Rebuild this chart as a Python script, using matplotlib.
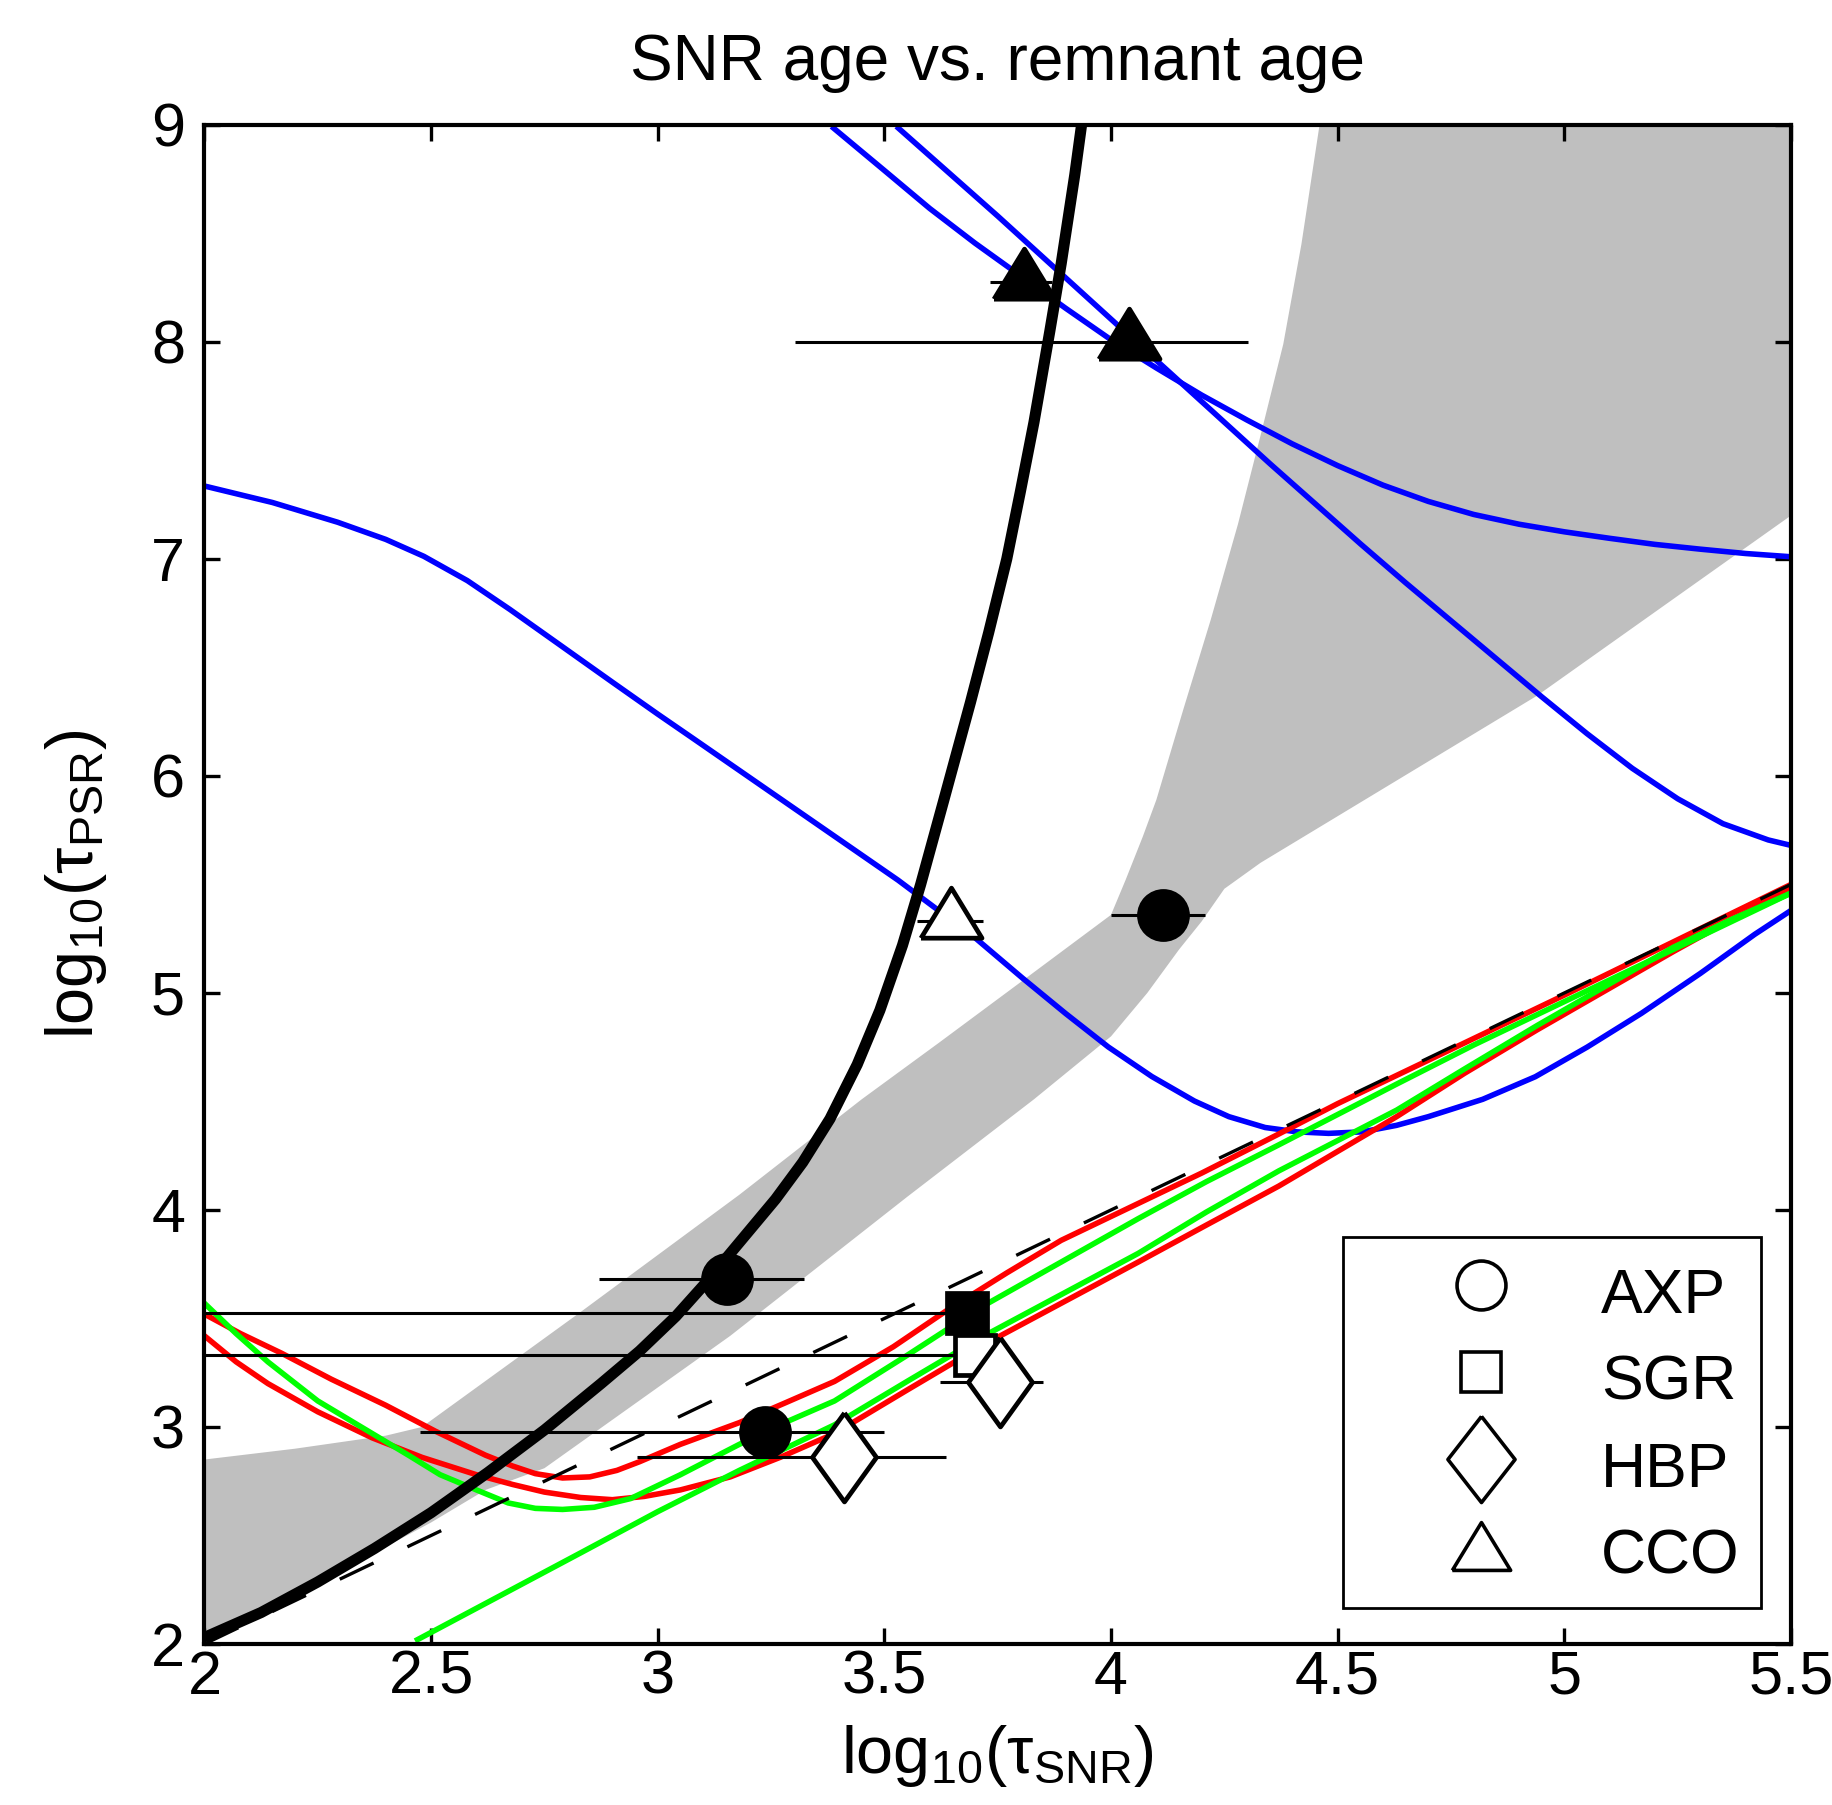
import numpy as np
import matplotlib
matplotlib.use('Agg')
import matplotlib.pyplot as plt
from matplotlib.lines import Line2D

plt.rcParams['font.family'] = ['Liberation Sans', 'DejaVu Sans']
plt.rcParams['mathtext.fontset'] = 'custom'
plt.rcParams['mathtext.rm'] = 'Liberation Sans'
plt.rcParams['mathtext.it'] = 'Liberation Sans:italic'
plt.rcParams['mathtext.bf'] = 'Liberation Sans:bold'
plt.rcParams['lines.scale_dashes'] = False

# ---------------- data ----------------
# gray allowed region (upper/left boundary, then lower/right boundary)
gray_upper_x = [2.0, 2.2, 2.4, 2.48, 2.83, 3.18, 3.45, 3.62, 3.82, 4.0, 4.032, 4.07, 4.10, 4.16, 4.22, 4.28, 4.33, 4.38, 4.42, 4.46, 5.5]
gray_upper_y = [2.85, 2.90, 2.96, 3.0, 3.53, 4.07, 4.51, 4.77, 5.08, 5.36, 5.52, 5.72, 5.89, 6.31, 6.72, 7.16, 7.57, 7.99, 8.45, 9.0, 9.0]
gray_lower_x = [5.5, 4.94, 4.33, 4.25, 4.20, 4.15, 4.08, 4.0, 3.83, 3.55, 3.16, 2.75, 2.62, 2.5, 2.25, 2.0]
gray_lower_y = [7.20, 6.37, 5.60, 5.48, 5.33, 5.20, 5.00, 4.80, 4.51, 4.06, 3.42, 2.81, 2.71, 2.56, 2.28, 2.01]

# thick black curve
black_x = [2.0, 2.125, 2.25, 2.375, 2.5, 2.625, 2.75, 2.875, 2.96, 3.04, 3.10, 3.18, 3.26, 3.32, 3.38, 3.44, 3.49, 3.54, 3.58, 3.63, 3.69, 3.73, 3.77, 3.80, 3.83, 3.865, 3.89, 3.92, 3.935]
black_y = [2.03, 2.145, 2.286, 2.44, 2.605, 2.79, 2.986, 3.20, 3.35, 3.51, 3.65, 3.85, 4.05, 4.22, 4.42, 4.67, 4.92, 5.22, 5.50, 5.88, 6.34, 6.66, 7.00, 7.31, 7.63, 8.05, 8.36, 8.77, 9.0]

# dashed identity line
dash_x = [2.0, 5.5]
dash_y = [2.0, 5.5]

# blue curves
blueA_x = [2.0, 2.15, 2.294, 2.40, 2.484, 2.58, 2.674, 2.78, 2.90, 3.0, 3.08, 3.17, 3.26, 3.35, 3.44, 3.53, 3.61, 3.69, 3.805, 3.90, 3.994, 4.09, 4.184, 4.26, 4.34, 4.41, 4.48, 4.555, 4.63, 4.70, 4.82, 4.936, 5.05, 5.17, 5.30, 5.42, 5.5]
blueA_y = [7.336, 7.26, 7.169, 7.09, 7.012, 6.90, 6.767, 6.61, 6.432, 6.285, 6.17, 6.04, 5.91, 5.78, 5.65, 5.52, 5.395, 5.272, 5.068, 4.905, 4.751, 4.615, 4.502, 4.43, 4.38, 4.36, 4.353, 4.36, 4.39, 4.43, 4.51, 4.614, 4.75, 4.906, 5.09, 5.27, 5.38]
blueB_x = [3.388, 3.5, 3.6, 3.7, 3.8, 3.9, 4.0, 4.1, 4.2, 4.3, 4.4, 4.5, 4.6, 4.7, 4.8, 4.9, 5.0, 5.1, 5.2, 5.3, 5.4, 5.5]
blueB_y = [8.985, 8.79, 8.615, 8.455, 8.305, 8.155, 8.01, 7.88, 7.755, 7.64, 7.53, 7.43, 7.34, 7.265, 7.205, 7.16, 7.125, 7.095, 7.067, 7.045, 7.025, 7.01]
blueC_x = [3.531, 3.65, 3.75, 3.85, 3.95, 4.05, 4.15, 4.25, 4.35, 4.45, 4.55, 4.65, 4.75, 4.85, 4.95, 5.05, 5.15, 5.25, 5.35, 5.45, 5.5]
blueC_y = [8.985, 8.765, 8.58, 8.39, 8.20, 8.01, 7.82, 7.63, 7.44, 7.255, 7.07, 6.89, 6.715, 6.54, 6.365, 6.195, 6.035, 5.895, 5.78, 5.705, 5.68]

# red curves
red1_x = [2.0, 2.08, 2.17, 2.28, 2.40, 2.51, 2.62, 2.68, 2.73, 2.79, 2.85, 2.91, 2.96, 3.05, 3.18, 3.28, 3.39, 3.52, 3.64, 3.77, 3.89, 4.06, 4.20, 4.37, 4.50, 4.63, 4.80, 5.0, 5.25, 5.5]
red1_y = [3.52, 3.43, 3.34, 3.22, 3.10, 2.98, 2.87, 2.82, 2.785, 2.765, 2.77, 2.80, 2.84, 2.92, 3.02, 3.11, 3.21, 3.37, 3.54, 3.71, 3.86, 4.03, 4.17, 4.35, 4.49, 4.62, 4.79, 4.99, 5.245, 5.50]
red2_x = [2.0, 2.07, 2.14, 2.25, 2.37, 2.48, 2.60, 2.68, 2.75, 2.83, 2.90, 2.97, 3.05, 3.16, 3.27, 3.39, 3.55, 3.72, 3.89, 4.06, 4.21, 4.37, 4.50, 4.63, 4.78, 4.94, 5.09, 5.24, 5.37, 5.5]
red2_y = [3.42, 3.30, 3.20, 3.07, 2.95, 2.86, 2.78, 2.735, 2.70, 2.675, 2.665, 2.68, 2.71, 2.77, 2.86, 2.97, 3.17, 3.38, 3.57, 3.76, 3.93, 4.11, 4.27, 4.43, 4.63, 4.83, 5.01, 5.19, 5.34, 5.48]

# green curves
green1_x = [2.0, 2.07, 2.14, 2.25, 2.37, 2.45, 2.52, 2.60, 2.67, 2.73, 2.79, 2.86, 2.94, 3.05, 3.18, 3.28, 3.39, 3.55, 3.72, 3.89, 4.06, 4.21, 4.37, 4.50, 4.63, 4.80, 5.0, 5.25, 5.5]
green1_y = [3.57, 3.43, 3.30, 3.12, 2.97, 2.87, 2.78, 2.71, 2.65, 2.625, 2.62, 2.63, 2.67, 2.78, 2.92, 3.02, 3.12, 3.33, 3.56, 3.76, 3.96, 4.13, 4.30, 4.44, 4.58, 4.76, 4.96, 5.21, 5.46]
green2_x = [2.47, 2.65, 2.83, 3.0, 3.18, 3.39, 3.55, 3.72, 3.89, 4.06, 4.21, 4.37, 4.50, 4.63, 4.78, 4.94, 5.09, 5.24, 5.37, 5.5]
green2_y = [2.02, 2.22, 2.42, 2.61, 2.80, 3.01, 3.21, 3.42, 3.61, 3.80, 3.99, 4.18, 4.32, 4.46, 4.65, 4.85, 5.03, 5.21, 5.34, 5.46]

# sources: value, lower and upper end of the horizontal error bar
axp_x = [3.152, 3.237, 4.115]
axp_y = [3.68, 2.975, 5.36]
axp_lo = [2.871, 2.476, 4.001]
axp_hi = [3.322, 3.50, 4.207]

sgr_x = [3.682, 3.699]
sgr_y = [3.523, 3.331]
sgr_lo = [2.0, 2.0]
sgr_hi = [3.682, 3.699]
sgr_filled = [True, False]

hbp_x = [3.412, 3.754]
hbp_y = [2.863, 3.209]
hbp_lo = [2.955, 3.623]
hbp_hi = [3.635, 3.851]

cco_x = [3.648, 3.808, 4.04]
cco_y = [5.33, 8.275, 8.0]
cco_lo = [3.571, 3.733, 3.302]
cco_hi = [3.718, 3.87, 4.302]
cco_filled = [False, True, True]

legend_labels = ['AXP', 'SGR', 'HBP', 'CCO']
xticks = [2, 2.5, 3, 3.5, 4, 4.5, 5, 5.5]
xticklabels = ['2', '2.5', '3', '3.5', '4', '4.5', '5', '5.5']
yticks = [2, 3, 4, 5, 6, 7, 8, 9]

# ---------------- styles ----------------
diamond_marker = [(0, 1), (0.72, 0), (0, -1), (-0.72, 0), (0, 1)]
tri_marker = [(-1, -0.547), (1, -0.547), (0, 1.093), (-1, -0.547)]

fig = plt.figure(figsize=(9.16, 9.025), dpi=200)
ax = fig.add_axes([0.1116, 0.0892, 0.8660, 0.8416])

ax.fill(np.concatenate([gray_upper_x, gray_lower_x]),
        np.concatenate([gray_upper_y, gray_lower_y]),
        color='#bfbfbf', lw=0, zorder=0.5)

lw_c = 2.0
line_kw = dict(lw=lw_c, zorder=2, solid_joinstyle='round')
ax.plot(blueA_x, blueA_y, color='#0000ff', **line_kw)
ax.plot(blueB_x, blueB_y, color='#0000ff', **line_kw)
ax.plot(blueC_x, blueC_y, color='#0000ff', **line_kw)
ax.plot(red1_x, red1_y, color='#ff0000', **line_kw)
ax.plot(red2_x, red2_y, color='#ff0000', **line_kw)
ax.plot(green1_x, green1_y, color='#00ff00', **line_kw)
ax.plot(green2_x, green2_y, color='#00ff00', **line_kw)
ax.plot(dash_x, dash_y, color='k', lw=1.2, dashes=(13.5, 13.5), zorder=2.5)
ax.plot(black_x, black_y, color='k', lw=4.0, zorder=3, solid_capstyle='butt',
        solid_joinstyle='round')

def errbars(xs, ys, lo, hi):
    xs = np.asarray(xs); lo = np.asarray(lo); hi = np.asarray(hi)
    ax.errorbar(xs, ys, xerr=[xs - lo, hi - xs], fmt='none', ecolor='k',
                elinewidth=1.1, capsize=0, zorder=4)

errbars(axp_x, axp_y, axp_lo, axp_hi)
errbars(sgr_x, sgr_y, sgr_lo, sgr_hi)
errbars(hbp_x, hbp_y, hbp_lo, hbp_hi)
errbars(cco_x, cco_y, cco_lo, cco_hi)

mew = 1.7
ax.plot(axp_x, axp_y, ls='none', marker='o', ms=18, mfc='k', mec='k', zorder=5)
for x, y, f in zip(sgr_x, sgr_y, sgr_filled):
    ax.plot([x], [y], ls='none', marker='s', ms=14.4, mfc='k' if f else 'white',
            mec='k', mew=mew, zorder=5)
ax.plot(hbp_x, hbp_y, ls='none', marker=diamond_marker, ms=32, mfc='white',
        mec='k', mew=mew, zorder=5)
for x, y, f in zip(cco_x, cco_y, cco_filled):
    ax.plot([x], [y], ls='none', marker=tri_marker, ms=24, mfc='k' if f else 'white',
            mec='k', mew=mew, zorder=5)

ax.set_xlim(2, 5.5)
ax.set_ylim(2, 9)
ax.set_xticks(xticks)
ax.set_xticklabels(xticklabels)
ax.set_yticks(yticks)
ax.tick_params(direction='in', length=5.8, width=1.2, top=True, right=True,
               labelsize=22)
ax.tick_params(axis='x', pad=2)
ax.tick_params(axis='y', pad=7)
for s in ax.spines.values():
    s.set_linewidth(1.5)

ax.set_title('SNR age vs. remnant age', fontsize=23, pad=16)
ax.set_xlabel(r'$\mathregular{log_{10}(\tau_{SNR})}$', fontsize=24, labelpad=6)
ax.set_ylabel(r'$\mathregular{log_{10}(\tau_{PSR})}$', fontsize=24, labelpad=15)

handles = [
    Line2D([], [], ls='none', marker='o', ms=17.6, mfc='white', mec='k', mew=1.3),
    Line2D([], [], ls='none', marker='s', ms=14.4, mfc='white', mec='k', mew=1.3),
    Line2D([], [], ls='none', marker=[(0, 1), (0.78, 0), (0, -1), (-0.78, 0), (0, 1)],
           ms=31, mfc='white', mec='k', mew=1.3),
    Line2D([], [], ls='none', marker=[(-1, -0.82), (1, -0.82), (0, 0.82), (-1, -0.82)],
           ms=21, mfc='white', mec='k', mew=1.3),
]
leg = ax.legend(handles, legend_labels, loc='lower right', bbox_to_anchor=(0.981, 0.024),
                borderaxespad=0, fontsize=22.5, borderpad=0.336, handlelength=3.74,
                handletextpad=0.056, handleheight=1.28, labelspacing=0.31,
                fancybox=False, framealpha=1, edgecolor='k')
leg.get_frame().set_linewidth(1.0)
leg.set_zorder(10)

fig.savefig('out.png', dpi=200)
